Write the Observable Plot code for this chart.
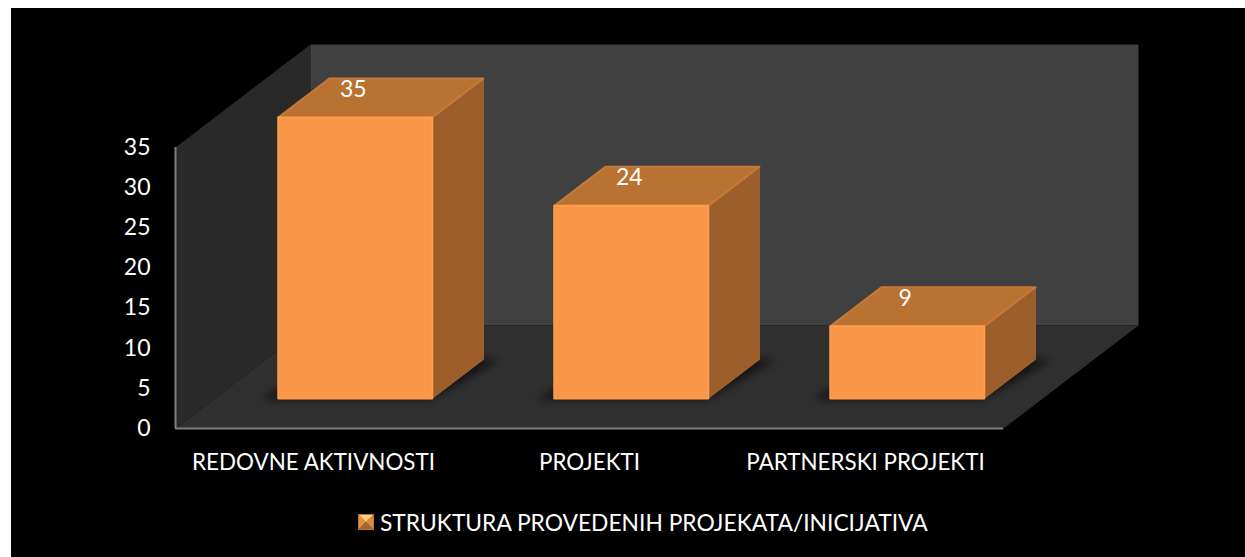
<!DOCTYPE html>
<html><head><meta charset="utf-8">
<script src="https://cdn.jsdelivr.net/npm/d3@7"></script>
<script src="https://cdn.jsdelivr.net/npm/@observablehq/plot@0.6"></script>
<style>
html,body{margin:0;padding:0;background:#fff;}
#panel{position:absolute;left:11px;top:8px;width:1234px;height:549px;background:#000;overflow:hidden;}
#chart{position:absolute;left:0;top:0;}
#legend{position:absolute;left:347px;top:500px;display:flex;align-items:center;color:#fff;font:22.8px Lato,sans-serif;white-space:nowrap;}
#swatch{width:14px;height:14px;margin-right:6px;border:1px solid #b87335;background:conic-gradient(from -45deg,#ffcf75 0 25%,#d98a43 25% 50%,#a8652f 50% 75%,#e08f48 75%);}
</style></head>
<body>
<div id="panel"><div id="chart"></div>
<div id="legend"><span id="swatch"></span><span>STRUKTURA PROVEDENIH PROJEKATA/INICIJATIVA</span></div></div>
<script>
const categories = ["REDOVNE AKTIVNOSTI", "PROJEKTI", "PARTNERSKI PROJEKTI"];
const values = [35, 24, 9];
const yTicks = [0, 5, 10, 15, 20, 25, 30, 35];
const yMax = 35;
// oblique projection: one unit of depth shifts a point by these data amounts
const depthX = 0.489;
const depthY = 12.83;
const barInset = 0.23, barWidth = 0.558;
const barFront = 0.291, barBack = 0.67;

const pt = (c, v, d) => ({x: c + d * depthX, y: v + d * depthY});
const poly = (id, pts) => pts.map(p => ({id, ...p}));
const n = categories.length;

const backWall = poly("b", [pt(0,0,1), pt(n,0,1), pt(n,yMax,1), pt(0,yMax,1), pt(0,0,1)]);
const sideWall = poly("s", [pt(0,0,0), pt(0,0,1), pt(0,yMax,1), pt(0,yMax,0), pt(0,0,0)]);
const floor = poly("f", [pt(0,0,0), pt(n,0,0), pt(n,0,1), pt(0,0,1), pt(0,0,0)]);

const bars = values.map((v, i) => ({i, v, a: i + barInset, b: i + barInset + barWidth}));
const front = bars.flatMap(({i,v,a,b}) => poly(i, [pt(a,0,barFront), pt(b,0,barFront), pt(b,v,barFront), pt(a,v,barFront), pt(a,0,barFront)]));
const top_ = bars.flatMap(({i,v,a,b}) => poly(i, [pt(a,v,barFront), pt(b,v,barFront), pt(b,v,barBack), pt(a,v,barBack), pt(a,v,barFront)]));
const side = bars.flatMap(({i,v,a,b}) => poly(i, [pt(b,0,barFront), pt(b,0,barBack), pt(b,v,barBack), pt(b,v,barFront), pt(b,0,barFront)]));
const shadow = bars.flatMap(({i,a,b}) => poly(i, [pt(a-0.06,0,barFront-0.01), pt(b,0,barFront-0.01), pt(b+0.06,0,barBack), pt(a,0,barBack), pt(a-0.06,0,barFront-0.01)]));

const face = (data, fill, stroke, sw, extra = {}) => Plot.line(data, {x:"x", y:"y", z:"id", fill, stroke: stroke || fill, strokeWidth: sw ?? 1, strokeLinejoin:"round", ...extra});
const font = "Lato, sans-serif";

const svg = Plot.plot({
  width: 1234, height: 480,
  marginLeft: 164, marginRight: 242, marginTop: 139, marginBottom: 60,
  style: {background: "transparent", fontFamily: font},
  x: {domain: [0, n], axis: null},
  y: {domain: [0, yMax], axis: null},
  marks: [
    face(sideWall, "#292929", "none", 0),
    face(backWall, "#404040", "none", 0),
    face(floor, "#2f2f2f", "none", 0),
    face(shadow, "#141414", "none", 0, {imageFilter: "blur(4px)"}),
    face(side, "#9c5f2b", "#a3632c", 1),
    face(top_, "#ba7233", "#c67a38", 2),
    face(front, "#f99647", "#fd9c4c", 2),
    Plot.ruleY([0], {x1: 0, x2: n, stroke: "#7f7f7f", strokeWidth: 2}),
    Plot.ruleX([0], {y1: 0, y2: yMax, stroke: "#7f7f7f", strokeWidth: 2}),
    Plot.axisY({ticks: yTicks, tickSize: 0, tickPadding: 25, fontSize: 23, fill: "#fff", label: null, tickFormat: d => String(d)}),
    Plot.text(categories, {x: (d, i) => i + 0.5, y: () => 0, text: d => d, dy: 34, fill: "#fff", fontSize: 22.4}),
    Plot.text(values, {x: (d, i) => pt(i + barInset + barWidth / 2, d, barFront).x, y: (d, i) => pt(i, d, barFront).y, text: d => String(d), dy: -28, dx: -2, fill: "#fff", fontSize: 23})
  ]
});
document.getElementById("chart").appendChild(svg);
</script>
</body></html>
